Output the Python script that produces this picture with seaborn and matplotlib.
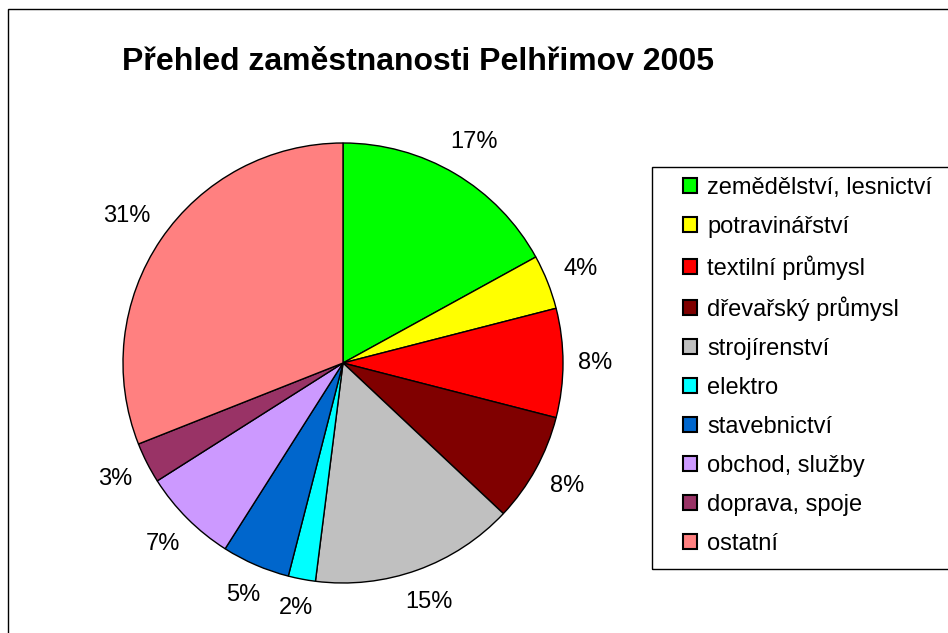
import matplotlib
matplotlib.use("Agg")
import numpy as np
import matplotlib.pyplot as plt
from matplotlib.patches import Rectangle
import seaborn as sns

categories = ['zemědělství, lesnictví', 'potravinářství', 'textilní průmysl',
              'dřevařský průmysl', 'strojírenství', 'elektro', 'stavebnictví',
              'obchod, služby', 'doprava, spoje', 'ostatní']
shares = [17, 4, 8, 8, 15, 2, 5, 7, 3, 31]
colors = ['#00FF00', '#FFFF00', '#FF0000', '#800000', '#C0C0C0',
          '#00FFFF', '#0066CC', '#CC99FF', '#993366', '#FF8080']

sns.set_style("white")
plt.rcParams['font.family'] = ['Liberation Sans', 'DejaVu Sans']
plt.rcParams['text.color'] = 'black'

W, H = 948, 633
fig = plt.figure(figsize=(W / 100, H / 100), dpi=100)

# outer chart frame (right/bottom edges fall outside the image)
fig.patches.append(Rectangle((8 / W, -0.05), 1.0, 1 - 9 / H + 0.05,
                             transform=fig.transFigure, fill=False,
                             edgecolor='black', linewidth=1))

radius_px = 220
ax = fig.add_axes([123 / W, 1 - 583 / H, 440 / W, 440 / H])
wedges, texts, autotexts = ax.pie(
    shares, colors=colors, startangle=90, counterclock=False,
    autopct='%1.0f%%', pctdistance=1.15,
    wedgeprops=dict(edgecolor='black', linewidth=1),
    textprops=dict(fontsize=17, color='black'))
ax.set_xlim(-1, 1)
ax.set_ylim(-1, 1)
ax.set_aspect('auto')
ax.axis('off')

# Excel-like label placement: box just outside the rim, along mid angle
fig.canvas.draw()
renderer = fig.canvas.get_renderer()
for w, t in zip(wedges, autotexts):
    ang = np.deg2rad((w.theta1 + w.theta2) / 2)
    ux, uy = np.cos(ang), np.sin(ang)
    bb = t.get_window_extent(renderer)
    a = bb.width / 2 / radius_px
    b = bb.height / 2 / radius_px
    d = 1.07 + a * abs(ux) + b * abs(uy)
    t.set_position((d * ux, d * uy))
    t.set_ha('center')
    t.set_va('center')

fig.text(418 / W, 1 - 62 / H, 'Přehled zaměstnanosti Pelhřimov 2005',
         ha='center', va='center', fontsize=23, fontweight='bold')

# legend frame (right edge runs off the image)
fig.patches.append(Rectangle((652 / W, 1 - 569 / H), 0.5, (569 - 167) / H,
                             transform=fig.transFigure, fill=False,
                             edgecolor='black', linewidth=1))
leg = fig.legend(wedges, categories, loc='upper left',
                 bbox_to_anchor=(683 / W, 1 - 177 / H),
                 fontsize=17, frameon=False,
                 handlelength=0.6, handleheight=0.6,
                 handletextpad=0.42, labelspacing=0.72, borderpad=0,
                 borderaxespad=0)
for h in leg.legend_handles:
    h.set_linewidth(1.5)

fig.savefig('out.png', dpi=100)
